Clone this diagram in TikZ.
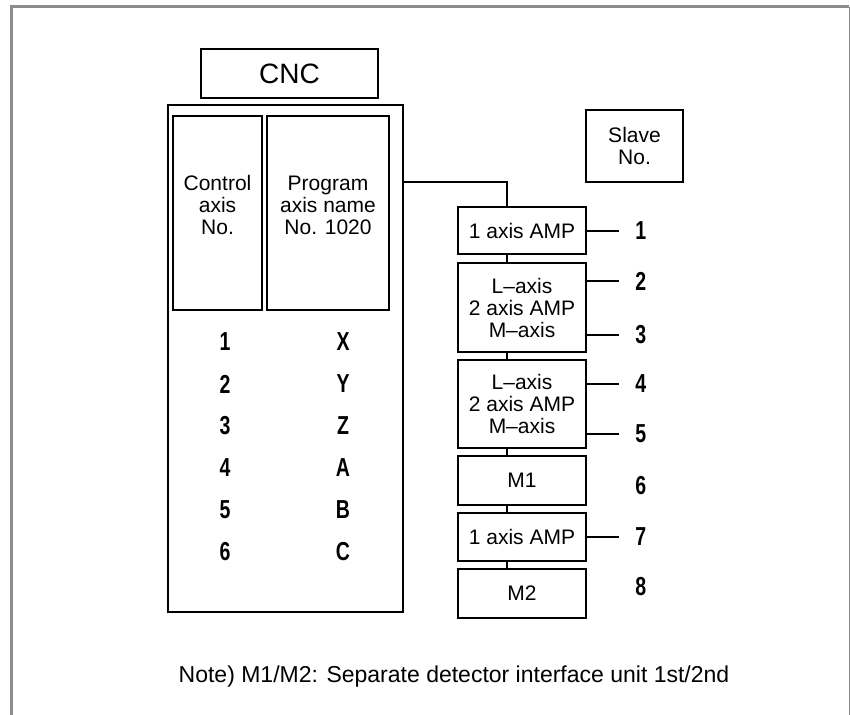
\documentclass[tikz,border=0pt]{standalone}
\usepackage{fontspec}
\setmainfont{Liberation Sans}
\newfontfamily\digitfont[FakeStretch=0.75]{Liberation Sans}
\usepackage{tikz}

\begin{document}
\begin{tikzpicture}[
  x=0.5pt,y=-0.5pt,
  frame/.style={draw=black!45,line width=1.5pt},
  box/.style={draw=black,line width=1pt,inner sep=0pt,align=center,
    font=\fontsize{10.5}{11}\selectfont},
  column/.style={box,minimum height=97pt},
  amp/.style={box,minimum width=64pt},
  label/.style={align=center,inner sep=0pt,font=\fontsize{10.5}{11}\selectfont},
  digit/.style={inner sep=0pt,font=\digitfont\bfseries\fontsize{13}{15}\selectfont},
  link/.style={draw=black,line width=1pt},
  tick/.style={draw=black,line width=1.1pt,shorten >=8pt}
]
\useasboundingbox (0,0) rectangle (850,715);

% page frame, open at the bottom
\draw[frame] (11.5,715) -- (11.5,7) -- (849,7);
\draw[draw=black!45,line width=0.5pt] (849,7) -- (849,715);

% CNC side
\node[box,minimum width=88.5pt,minimum height=24.5pt,
  font=\fontsize{14}{16}\selectfont] (cnc) at (289.5,73.5) {CNC};
\node[box,minimum width=117.5pt,minimum height=253.5pt] (unit) at (285.5,358.5) {};
\node[column,minimum width=44.5pt] (ctrl) at (217.5,213) {};
\node[column,minimum width=61pt] (prog) at (328,213) {};
\node[label] (ctrltxt) at (217.5,205) {Control\\axis\\No.};
\node[label] (progtxt) at (328,205) {Program\\axis name\\No. 1020};

\foreach \n/\a [count=\i] in {1/X,2/Y,3/Z,4/A,5/B,6/C}{
  \node[digit] (no\i) at (225,300+42*\i) {\n};
  \node[digit] (ax\i) at (343,300+42*\i) {\a};
}

% amplifier chain
\node[box,minimum width=48.5pt,minimum height=36pt] (slave) at (634.5,146) {Slave\\No.};
\node[amp,minimum height=23.5pt] (amp1) at (522,230.5) {1 axis AMP};
\node[amp,minimum height=44.5pt] (amp2) at (522,307.5) {L--axis\\2 axis AMP\\M--axis};
\node[amp,minimum height=44pt] (amp3) at (522,404) {L--axis\\2 axis AMP\\M--axis};
\node[amp,minimum height=24.5pt] (m1) at (522,480.5) {M1};
\node[amp,minimum height=24pt] (amp4) at (522,537) {1 axis AMP};
\node[amp,minimum height=24.5pt] (m2) at (522,593.5) {M2};

\coordinate (bus) at (507,182);
\draw[link] (unit.east |- bus) -- (bus) -- (amp1.north -| bus);
\foreach \a/\b in {amp1/amp2,amp2/amp3,amp3/m1,m1/amp4,amp4/m2}
  \draw[link] (\a.south -| bus) -- (\b.north -| bus);

% slave numbers
\foreach \y [count=\i] in {231,281,335,384,434,486,537,587}
  \node[digit,anchor=west] (s\i) at (635,\y) {\i};

\draw[tick] (amp1.east |- s1) -- (s1.west);
\draw[tick] (amp2.east |- s2) -- (s2.west);
\draw[tick] (amp2.east |- s3) -- (s3.west);
\draw[tick] (amp3.east |- s4) -- (s4.west);
\draw[tick] (amp3.east |- s5) -- (s5.west);
\draw[tick] (amp4.east |- s7) -- (s7.west);

\node[anchor=base,inner sep=0pt,font=\fontsize{11.5}{13}\selectfont] (note)
  at (454,682) {Note) M1/M2: Separate detector interface unit 1st/2nd};
\end{tikzpicture}
\end{document}
